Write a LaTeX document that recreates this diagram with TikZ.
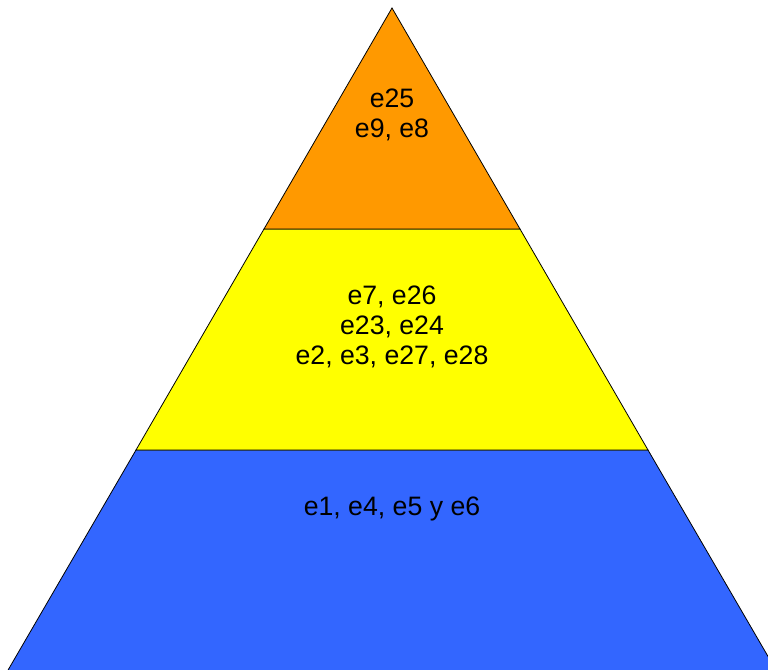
\documentclass[tikz,border=0pt]{standalone}
\usepackage{fontspec}
\setmainfont{Liberation Sans}
\usetikzlibrary{positioning}

\begin{document}
\begin{tikzpicture}[
    x=0.75pt, y=-0.75pt,
    level/.style={draw=black, line width=0.6pt, line join=miter},
    label/.style={align=center, font=\fontsize{20}{22.5}\selectfont, inner sep=0pt}
]
    \definecolor{topcol}{HTML}{FF9900}
    \definecolor{midcol}{HTML}{FFFF00}
    \definecolor{lowcol}{HTML}{3366FF}

    \useasboundingbox (0,0) rectangle (768,670);
    \clip (0,0) rectangle (768,670);

    % pyramid levels
    \filldraw[level, fill=lowcol] (136,450) -- (648,450) -- (776.5,671) -- (7.5,671) -- cycle;
    \filldraw[level, fill=midcol] (264,229) -- (520,229) -- (648,450) -- (136,450) -- cycle;
    \filldraw[level, fill=topcol] (392,8) -- (520,229) -- (264,229) -- cycle;

    \node[label] (top) at (392,115) {e25\\e9, e8};
    \node[label] (mid) at (392,327) {e7, e26\\e23, e24\\e2, e3, e27, e28};
    \node[label] (low) at (392,509) {e1, e4, e5 y e6};
\end{tikzpicture}
\end{document}
